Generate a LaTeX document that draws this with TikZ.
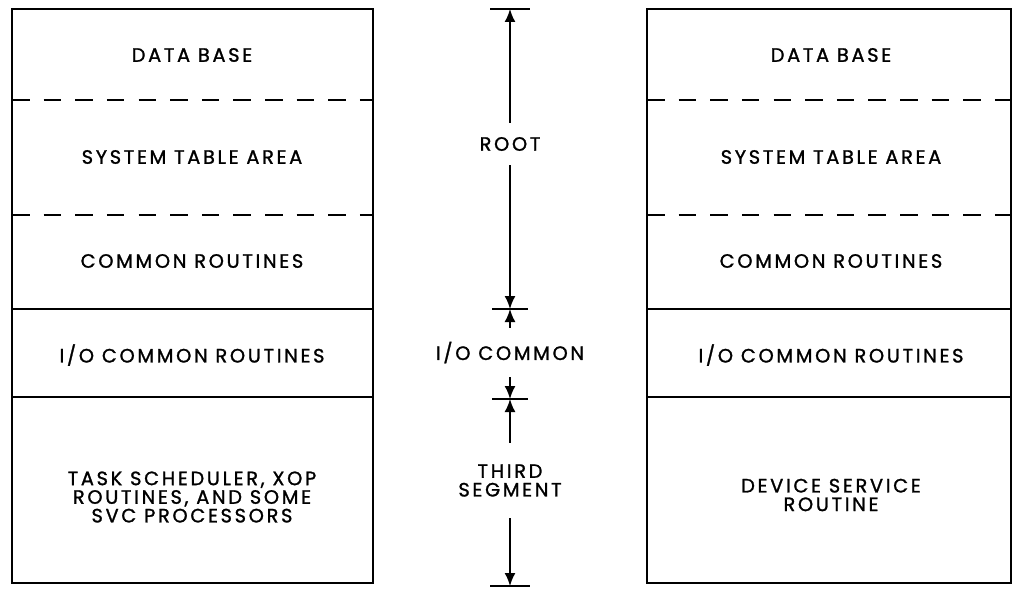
\documentclass[tikz,border=0pt]{standalone}
\usepackage{fontspec}
\newfontfamily\memfont[LetterSpace=14,FakeBold=1.3]{Poppins}
\usetikzlibrary{arrows.meta}
\begin{document}
\begin{tikzpicture}[x=0.02cm,y=-0.02cm,
    lbl/.style={font=\memfont\fontsize{11}{10.6}\selectfont,align=center,inner sep=0pt},
    frame/.style={line width=1.6pt},
    soft/.style={line width=1.2pt,dash pattern=on 10pt off 8pt},
    hard/.style={line width=1.2pt},
    tick/.style={line width=1.2pt},
    dim/.style={line width=1pt,-{Latex[length=2.6mm,width=2.2mm]}}]
    \useasboundingbox (0,0) rectangle (1016,588);
    % left column
    \draw[frame] (12,9) rectangle (373,583);
    \draw[soft] (12,100) -- (373,100);
    \draw[soft] (12,215) -- (373,215);
    \draw[hard] (12,309) -- (373,309);
    \draw[hard] (12,397) -- (373,397);
    \node[lbl] (ldata) at (192,55) {DATA BASE};
    \node[lbl] (ltable) at (192,157) {SYSTEM TABLE AREA};
    \node[lbl] (lcommon) at (192,261) {COMMON ROUTINES};
    \node[lbl] (lio) at (192,355) {I/O COMMON ROUTINES};
    \node[lbl] (ltask) at (192,497) {TASK SCHEDULER, XOP\\ROUTINES, AND SOME\\SVC PROCESSORS};
    % right column
    \draw[frame] (647,9) rectangle (1011,583);
    \draw[soft] (647,100) -- (1011,100);
    \draw[soft] (647,215) -- (1011,215);
    \draw[hard] (647,309) -- (1011,309);
    \draw[hard] (647,397) -- (1011,397);
    \node[lbl] (rdata) at (831,55) {DATA BASE};
    \node[lbl] (rtable) at (831,157) {SYSTEM TABLE AREA};
    \node[lbl] (rcommon) at (831,261) {COMMON ROUTINES};
    \node[lbl] (rio) at (831,355) {I/O COMMON ROUTINES};
    \node[lbl] (rdev) at (831,495) {DEVICE SERVICE\\ROUTINE};
    % segment scale
    \coordinate (t1) at (510,9);
    \coordinate (t2) at (510,309);
    \coordinate (t3) at (510,399);
    \coordinate (t4) at (510,586);
    \draw[tick] (t1) ++(-20,0) -- ++(40,0);
    \draw[tick] (t2) ++(-18,0) -- ++(36,0);
    \draw[tick] (t3) ++(-18,0) -- ++(36,0);
    \draw[tick] (t4) ++(-20,0) -- ++(40,0);
    \node[lbl,minimum height=0.84cm] (root) at (510,144) {ROOT};
    \node[lbl,minimum height=0.98cm] (iocom) at (510,352.5) {I/O COMMON};
    \node[lbl,minimum height=1.5cm] (third) at (510,480.5) {THIRD\\SEGMENT};
    \draw[dim] (root) -- (t1);
    \draw[dim] (root) -- (t2);
    \draw[dim] (iocom) -- (t2);
    \draw[dim] (iocom) -- (t3);
    \draw[dim] (third) -- (t3);
    \draw[dim] (third) -- (t4);
\end{tikzpicture}
\end{document}
